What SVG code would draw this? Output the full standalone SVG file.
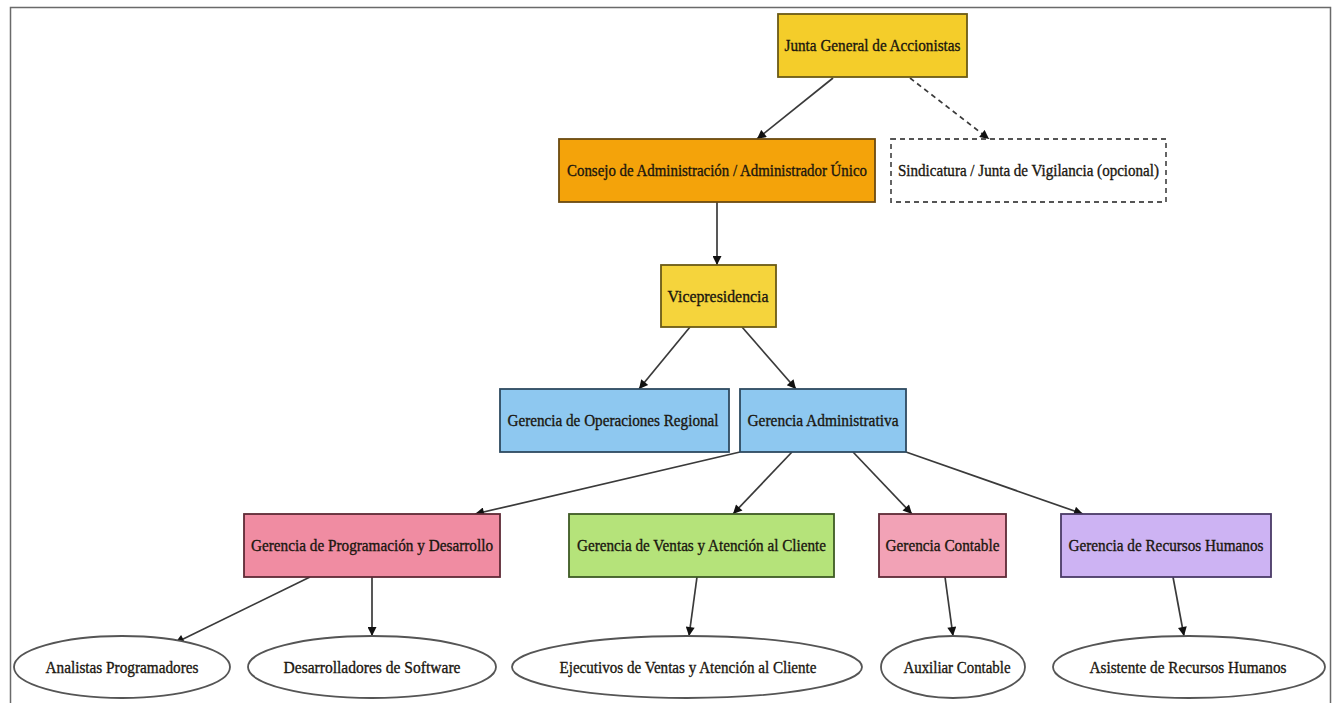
<svg xmlns="http://www.w3.org/2000/svg" width="1333" height="703" viewBox="0 0 1333 703">
<defs>
<style>
.t{font-family:"Liberation Serif","DejaVu Serif",serif;font-size:17px;fill:#1a160f;stroke:#1a160f;stroke-width:0.35;text-anchor:middle}
.n{stroke-width:1.8}
.e{fill:none;stroke:#3a3a3a;stroke-width:1.7}
.ell{fill:#ffffff;stroke:#555555;stroke-width:1.8}
</style>
<marker id="ah" viewBox="0 0 10 10" refX="10" refY="5" markerWidth="11" markerHeight="9" markerUnits="userSpaceOnUse" orient="auto">
<path d="M0,0 L10,5 L0,10 z" fill="#111"/>
</marker>
</defs>
<rect x="0" y="0" width="1333" height="703" fill="#ffffff"/>
<path d="M10.5,703 L10.5,7.5 L1330.5,7.5 L1330.5,703" fill="none" stroke="#6a6a6a" stroke-width="1.5"/>

<g id="connectors">
<line class="e" x1="833" y1="78" x2="757" y2="139" marker-end="url(#ah)"/>
<line class="e" x1="910" y1="78" x2="989" y2="139" stroke-dasharray="5,4" marker-end="url(#ah)"/>
<line class="e" x1="717" y1="202" x2="717" y2="265" marker-end="url(#ah)"/>
<line class="e" x1="690" y1="327" x2="639" y2="389" marker-end="url(#ah)"/>
<line class="e" x1="742" y1="327" x2="796" y2="389" marker-end="url(#ah)"/>
<line class="e" x1="740" y1="452" x2="475" y2="514" marker-end="url(#ah)"/>
<line class="e" x1="792" y1="452" x2="733" y2="514" marker-end="url(#ah)"/>
<line class="e" x1="853" y1="452" x2="912" y2="514" marker-end="url(#ah)"/>
<line class="e" x1="906" y1="452" x2="1083" y2="514" marker-end="url(#ah)"/>
<line class="e" x1="310" y1="577" x2="175" y2="643" marker-end="url(#ah)"/>
<line class="e" x1="372" y1="577" x2="372" y2="636" marker-end="url(#ah)"/>
<line class="e" x1="697" y1="577" x2="689" y2="636" marker-end="url(#ah)"/>
<line class="e" x1="945" y1="577" x2="953" y2="636" marker-end="url(#ah)"/>
<line class="e" x1="1173" y1="577" x2="1184" y2="636" marker-end="url(#ah)"/>
</g>

<g id="junta">
<rect class="n" x="778" y="14" width="189" height="63" fill="#f4cd2a" stroke="#6b5a16"/>
<text class="t" x="872.5" y="51" textLength="176" lengthAdjust="spacingAndGlyphs">Junta General de Accionistas</text>
</g>
<g id="consejo">
<rect class="n" x="559" y="139" width="316" height="63" fill="#f4a30a" stroke="#6b4a10"/>
<text class="t" x="717" y="176" textLength="300" lengthAdjust="spacingAndGlyphs">Consejo de Administración / Administrador Único</text>
</g>
<g id="sindicatura">
<rect x="891" y="139" width="275" height="63" fill="#ffffff" stroke="#555555" stroke-width="1.8" stroke-dasharray="5,4"/>
<text class="t" x="1028.5" y="176" textLength="261" lengthAdjust="spacingAndGlyphs">Sindicatura / Junta de Vigilancia (opcional)</text>
</g>
<g id="vicepresidencia">
<rect class="n" x="661" y="265" width="115" height="62" fill="#f5d43c" stroke="#6b5a16"/>
<text class="t" x="718" y="302" textLength="101" lengthAdjust="spacingAndGlyphs">Vicepresidencia</text>
</g>
<g id="operaciones">
<rect class="n" x="500" y="389" width="229" height="63" fill="#8ec8f0" stroke="#2e4a60"/>
<text class="t" x="613" y="426" textLength="211" lengthAdjust="spacingAndGlyphs">Gerencia de Operaciones Regional</text>
</g>
<g id="administrativa">
<rect class="n" x="740" y="389" width="166" height="63" fill="#8ec8f0" stroke="#2e4a60"/>
<text class="t" x="823" y="426" textLength="151" lengthAdjust="spacingAndGlyphs">Gerencia Administrativa</text>
</g>
<g id="programacion">
<rect class="n" x="244" y="514" width="256" height="63" fill="#f08ca2" stroke="#5e2a36"/>
<text class="t" x="372" y="551" textLength="242" lengthAdjust="spacingAndGlyphs">Gerencia de Programación y Desarrollo</text>
</g>
<g id="ventas">
<rect class="n" x="569" y="514" width="265" height="63" fill="#b5e37a" stroke="#3e5a24"/>
<text class="t" x="701.5" y="551" textLength="249" lengthAdjust="spacingAndGlyphs">Gerencia de Ventas y Atención al Cliente</text>
</g>
<g id="contable">
<rect class="n" x="879" y="514" width="127" height="63" fill="#f2a2b6" stroke="#5e2a36"/>
<text class="t" x="942.5" y="551" textLength="114" lengthAdjust="spacingAndGlyphs">Gerencia Contable</text>
</g>
<g id="rrhh">
<rect class="n" x="1061" y="514" width="210" height="63" fill="#cdb3f3" stroke="#4a3a66"/>
<text class="t" x="1166" y="551" textLength="195" lengthAdjust="spacingAndGlyphs">Gerencia de Recursos Humanos</text>
</g>
<g id="analistas">
<ellipse class="ell" cx="122" cy="667" rx="108" ry="31"/>
<text class="t" x="122" y="673" textLength="153" lengthAdjust="spacingAndGlyphs">Analistas Programadores</text>
</g>
<g id="desarrolladores">
<ellipse class="ell" cx="372" cy="667" rx="124" ry="31"/>
<text class="t" x="372" y="673" textLength="177" lengthAdjust="spacingAndGlyphs">Desarrolladores de Software</text>
</g>
<g id="ejecutivos">
<ellipse class="ell" cx="687" cy="667" rx="175" ry="31"/>
<text class="t" x="688" y="673" textLength="257" lengthAdjust="spacingAndGlyphs">Ejecutivos de Ventas y Atención al Cliente</text>
</g>
<g id="auxiliar">
<ellipse class="ell" cx="953" cy="667" rx="72" ry="31"/>
<text class="t" x="957" y="673" textLength="107" lengthAdjust="spacingAndGlyphs">Auxiliar Contable</text>
</g>
<g id="asistente">
<ellipse class="ell" cx="1189" cy="667" rx="136" ry="31"/>
<text class="t" x="1188" y="673" textLength="197" lengthAdjust="spacingAndGlyphs">Asistente de Recursos Humanos</text>
</g>
</svg>
